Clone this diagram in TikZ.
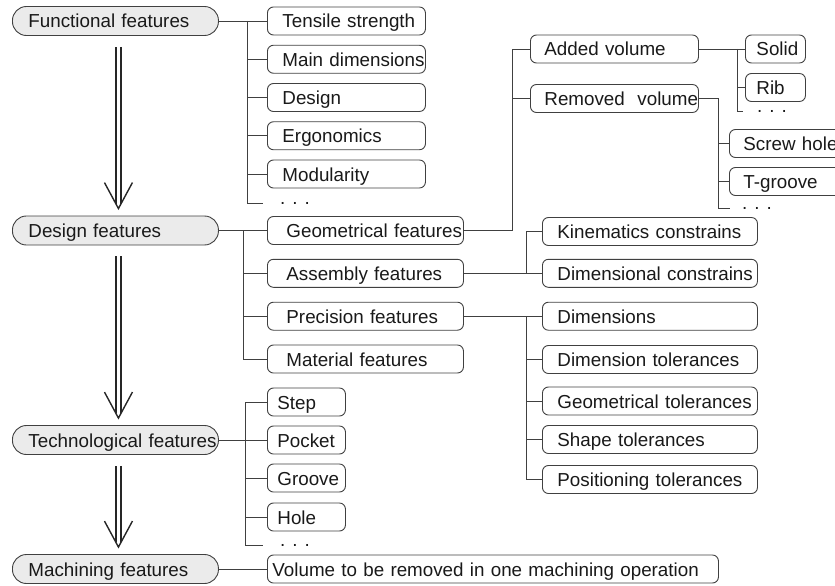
\documentclass[tikz,border=0pt]{standalone}
\usepackage{fontspec}
\setmainfont{Liberation Sans}

\tikzset{
  every node/.style={font=\fontsize{18.8pt}{22pt}\selectfont, text=black!90},
  mainbox/.style={draw=black!75, line width=0.9pt, fill=black!8, rounded corners=14pt,
    minimum height=29pt, inner xsep=16pt, inner ysep=2pt, text width=174pt,
    align=left, anchor=west, text height=14pt, text depth=0pt},
  subbox/.style 2 args={draw=black!75, line width=0.9pt, rounded corners=6pt,
    minimum height=28pt, inner xsep=#2, inner ysep=2pt, text width=#1,
    align=left, anchor=west, text height=14pt, text depth=0pt},
  moredots/.style={inner sep=0pt, anchor=west},
  conn/.style={draw=black!75, line width=0.9pt},
  bigarrow/.style={draw=black!85, line width=1.4pt},
}

\begin{document}
\begin{tikzpicture}[x=1pt, y=-1pt]
   \useasboundingbox (0,0) rectangle (835,586);
   \clip (0,0) rectangle (835,586);
   % Feature levels
   \node [mainbox] (func) at (12,21) {Functional features};
   \node [mainbox] (design) at (12,230.5) {Design features};
   \node [mainbox] (tech) at (12,440) {\mbox{Technological features}};
   \node [mainbox] (mach) at (12,569) {Machining features};
   % Double arrows
   \foreach \a/\b in {func/design, design/tech, tech/mach} {
      \coordinate (top) at ([xshift=3pt,yshift=-11pt]\a.south);
      \coordinate (tip) at ([xshift=3pt,yshift=7pt]\b.north);
      \draw [bigarrow, double, double distance=3.6pt] (top) -- ([yshift=5pt]tip);
      \draw [bigarrow] ([xshift=-14pt,yshift=26pt]tip) -- (tip) -- ([xshift=14pt,yshift=26pt]tip);
   }
   % Functional features
   \foreach \t [count=\i] in {Tensile strength, Main dimensions, Design, Ergonomics, Modularity}
      \node [subbox={128pt}{15pt}] (f\i) at (267, {21+38.25*(\i-1)}) {\mbox{\t}};
   \node [moredots] (fdots) at (280,203) {. . .};
   \coordinate (fj) at (247,21);
   \coordinate (fend) at (263,203);
   \draw [conn] (func.east) -- (f1.west);
   \draw [conn] (fj) |- (fend);
   \foreach \i in {2,...,5}
      \draw [conn] (fj |- f\i) -- (f\i.west);
   % Design features
   \foreach \t/\y [count=\i] in {Geometrical features/230.5, Assembly features/273.3,
         Precision features/316.2, Material features/359}
      \node [subbox={158pt}{19pt}] (d\i) at (267,\y) {\mbox{\t}};
   \coordinate (dj) at (243,230.5);
   \draw [conn] (design.east) -- (d1.west);
   \draw [conn] (dj) |- (d4.west);
   \foreach \i in {2,3}
      \draw [conn] (dj |- d\i) -- (d\i.west);
   % Geometrical features
   \node [subbox={140pt}{14pt}] (a1) at (530,49) {Added volume};
   \node [subbox={140pt}{14pt}] (a2) at (530,98.5) {\mbox{Removed\ \ volume}};
   \coordinate (gj) at (512.5,49);
   \draw [conn] (d1.east) -| (gj) -- (a1.west);
   \draw [conn] (gj |- a2) -- (a2.west);
   % Added volume
   \node [subbox={38pt}{11pt}] (s1) at (745,49) {\mbox{Solid}};
   \node [subbox={38pt}{11pt}] (s2) at (745,87.5) {Rib};
   \node [moredots] (adots) at (757,111) {. . .};
   \coordinate (aj) at (737,49);
   \coordinate (aend) at (743,111);
   \draw [conn] (a1.east) -- (s1.west);
   \draw [conn] (aj) |- (aend);
   \draw [conn] (aj |- s2) -- (s2.west);
   % Removed volume
   \node [subbox={150pt}{14pt}] (h1) at (729,143.5) {Screw hole};
   \node [subbox={150pt}{14pt}] (h2) at (729,181.5) {T-groove};
   \node [moredots] (rdots) at (742,208) {. . .};
   \coordinate (rj) at (718,98.5);
   \coordinate (rend) at (730,208);
   \draw [conn] (a2.east) -- (rj) |- (rend);
   \foreach \i in {1,2}
      \draw [conn] (rj |- h\i) -- (h\i.west);
   % Assembly features
   \node [subbox={185pt}{15pt}] (k1) at (542,231.5) {\mbox{Kinematics constrains}};
   \node [subbox={185pt}{15pt}] (k2) at (542,273.3) {\mbox{Dimensional constrains}};
   \coordinate (kj) at (526,231.5);
   \draw [conn] (d2.east) -- (k2.west);
   \draw [conn] (k1.west) -- (kj) -- (kj |- k2);
   % Precision features
   \foreach \t/\y [count=\i] in {Dimensions/316.2, Dimension tolerances/359.5,
         Geometrical tolerances/401, Shape tolerances/439.5, Positioning tolerances/479.5}
      \node [subbox={185pt}{15pt}] (p\i) at (542,\y) {\mbox{\t}};
   \coordinate (pj) at (526,316.2);
   \draw [conn] (d3.east) -- (p1.west);
   \draw [conn] (pj) |- (p5.west);
   \foreach \i in {2,3,4}
      \draw [conn] (pj |- p\i) -- (p\i.west);
   % Technological features
   \foreach \t/\y [count=\i] in {Step/402, Pocket/440, Groove/478, Hole/517}
      \node [subbox={58pt}{10pt}] (t\i) at (267,\y) {\mbox{\t}};
   \node [moredots] (tdots) at (280,545) {. . .};
   \coordinate (tj) at (245,402);
   \coordinate (tend) at (263,545);
   \draw [conn] (tech.east) -- (t2.west);
   \draw [conn] (t1.west) -- (tj) |- (tend);
   \foreach \i in {3,4}
      \draw [conn] (tj |- t\i) -- (t\i.west);
   % Machining features
   \node [subbox={441pt}{5pt}] (vol) at (267,569) {\mbox{Volume to be removed in one machining operation}};
   \draw [conn] (mach.east) -- (vol.west);
\end{tikzpicture}
\end{document}
